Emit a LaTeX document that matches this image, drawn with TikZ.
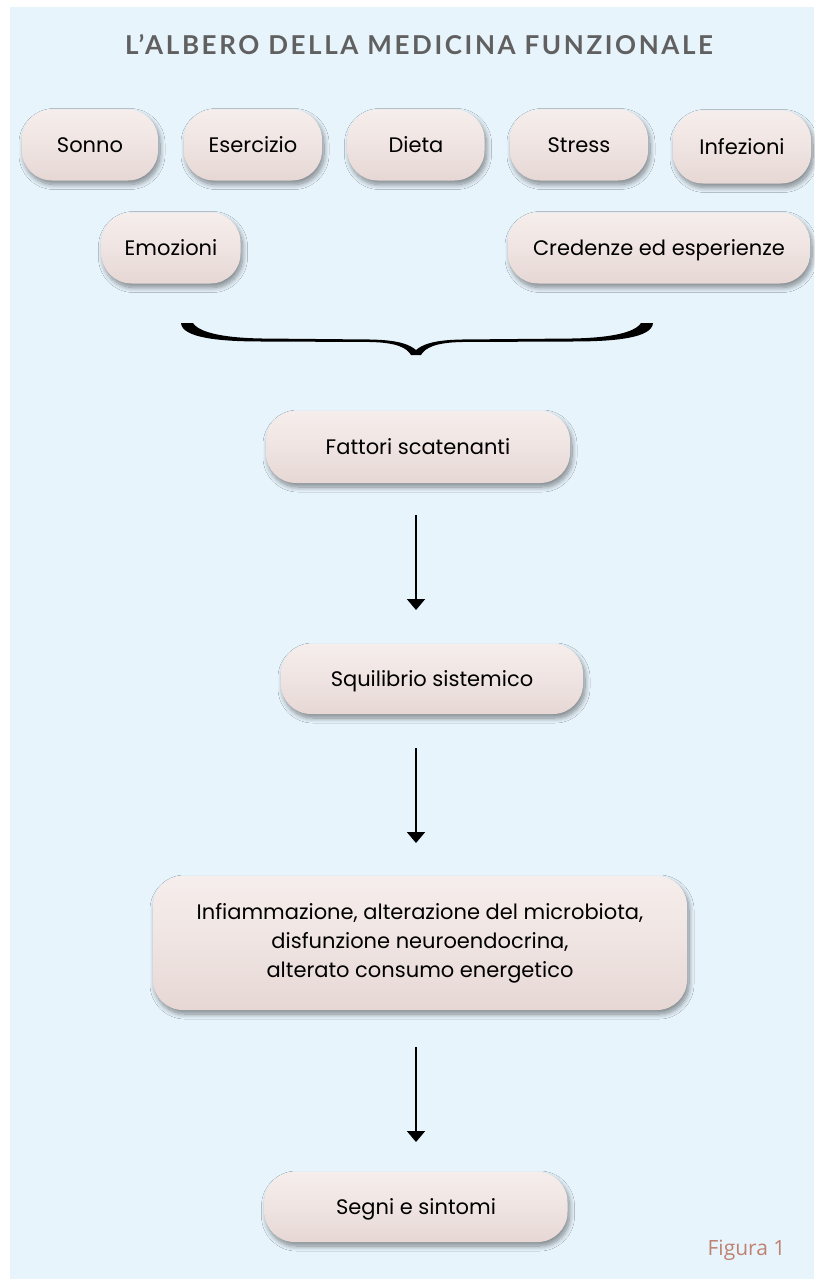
\documentclass[tikz,border=0pt]{standalone}
\usepackage{fontspec}
\setmainfont{Poppins}
\newfontfamily\titlefont[LetterSpace=10]{Lato}
\newfontfamily\figfont{Open Sans}
\usetikzlibrary{shadows.blur,arrows.meta}
\definecolor{bgblue}{HTML}{E8F4FC}
\definecolor{boxfill}{HTML}{EFE4E2}
\definecolor{boxtop}{HTML}{F6EEEC}
\definecolor{boxbot}{HTML}{E6D7D4}
\definecolor{titlegray}{HTML}{606060}
\definecolor{figcol}{HTML}{BF8272}
\tikzset{
  pill/.style={rectangle, rounded corners=30pt, top color=boxtop, bottom color=boxbot, middle color=boxfill,
    draw=none, align=center, text=black, font=\fontsize{21}{29}\selectfont,
    blur shadow={shadow xshift=2pt, shadow yshift=-4pt, shadow blur radius=5pt, shadow opacity=45, shadow blur steps=10},
    inner sep=0pt},
  oneline/.style={text height=16pt, text depth=2pt},
  arr/.style={line width=2pt, -{Triangle[width=18pt,length=11pt]}, black},
}
\begin{document}
\begin{tikzpicture}[x=1pt,y=-1pt]
\useasboundingbox (0,0) rectangle (814,1279);
\fill[bgblue] (10,7) rectangle (814,1279);
\node[text=titlegray, font=\titlefont\bfseries\fontsize{26}{30}\selectfont] (title) at (419,45) {L’ALBERO DELLA MEDICINA FUNZIONALE};

\node[pill, oneline, minimum width=136pt, minimum height=71pt] (sonno) at (90,145) {Sonno};
\node[pill, oneline, minimum width=138pt, minimum height=71pt] (eserc) at (253,145) {Esercizio};
\node[pill, oneline, minimum width=137pt, minimum height=71pt] (dieta) at (416,145) {Dieta};
\node[pill, oneline, minimum width=138pt, minimum height=71pt] (stress) at (579,145) {Stress};
\node[pill, oneline, minimum width=138pt, minimum height=73pt] (infez) at (742,147) {Infezioni};
\node[pill, oneline, minimum width=139pt, minimum height=71pt] (emoz) at (171,248) {Emozioni};
\node[pill, oneline, minimum width=302pt, minimum height=71pt] (cred) at (659,248) {Credenze ed esperienze};

% brace
\fill[black] (181,323) -- (193,323)
  .. controls (200,334) and (230,338) .. (262,338.5) -- (370,339.5)
  .. controls (400,340) and (410,345) .. (416,350)
  .. controls (422,345) and (432,340) .. (462,339.5) -- (572,338.5)
  .. controls (604,338) and (634,334) .. (641,323) -- (653,323)
  .. controls (652,338) and (615,341.5) .. (572,341.5) -- (462,342)
  .. controls (435,342.5) and (425,348) .. (421,355) -- (411,355)
  .. controls (407,348) and (397,342.5) .. (370,342) -- (262,341.5)
  .. controls (220,341.5) and (182,338) .. (181,323) -- cycle;

\node[pill, oneline, minimum width=304pt, minimum height=72pt] (fatt) at (418,447) {Fattori scatenanti};
\node[pill, oneline, minimum width=302pt, minimum height=70pt] (squi) at (432,679) {Squilibrio sistemico};
\node[pill, minimum width=534pt, minimum height=134pt] (infi) at (420,943) {Infiammazione, alterazione del microbiota,\\disfunzione neuroendocrina,\\alterato consumo energetico};
\node[pill, oneline, minimum width=303pt, minimum height=70pt] (segni) at (416,1207) {Segni e sintomi};

\coordinate (a1s) at (416,515); \coordinate (a1e) at (416,610);
\coordinate (a2s) at (416,748); \coordinate (a2e) at (416,843);
\coordinate (a3s) at (416,1047); \coordinate (a3e) at (416,1142);
\draw[arr] (a1s) -- (a1e);
\draw[arr] (a2s) -- (a2e);
\draw[arr] (a3s) -- (a3e);

\node[anchor=east, text=figcol, font=\figfont\fontsize{21}{25}\selectfont] (fig) at (789,1250) {Figura 1};
\end{tikzpicture}
\end{document}
